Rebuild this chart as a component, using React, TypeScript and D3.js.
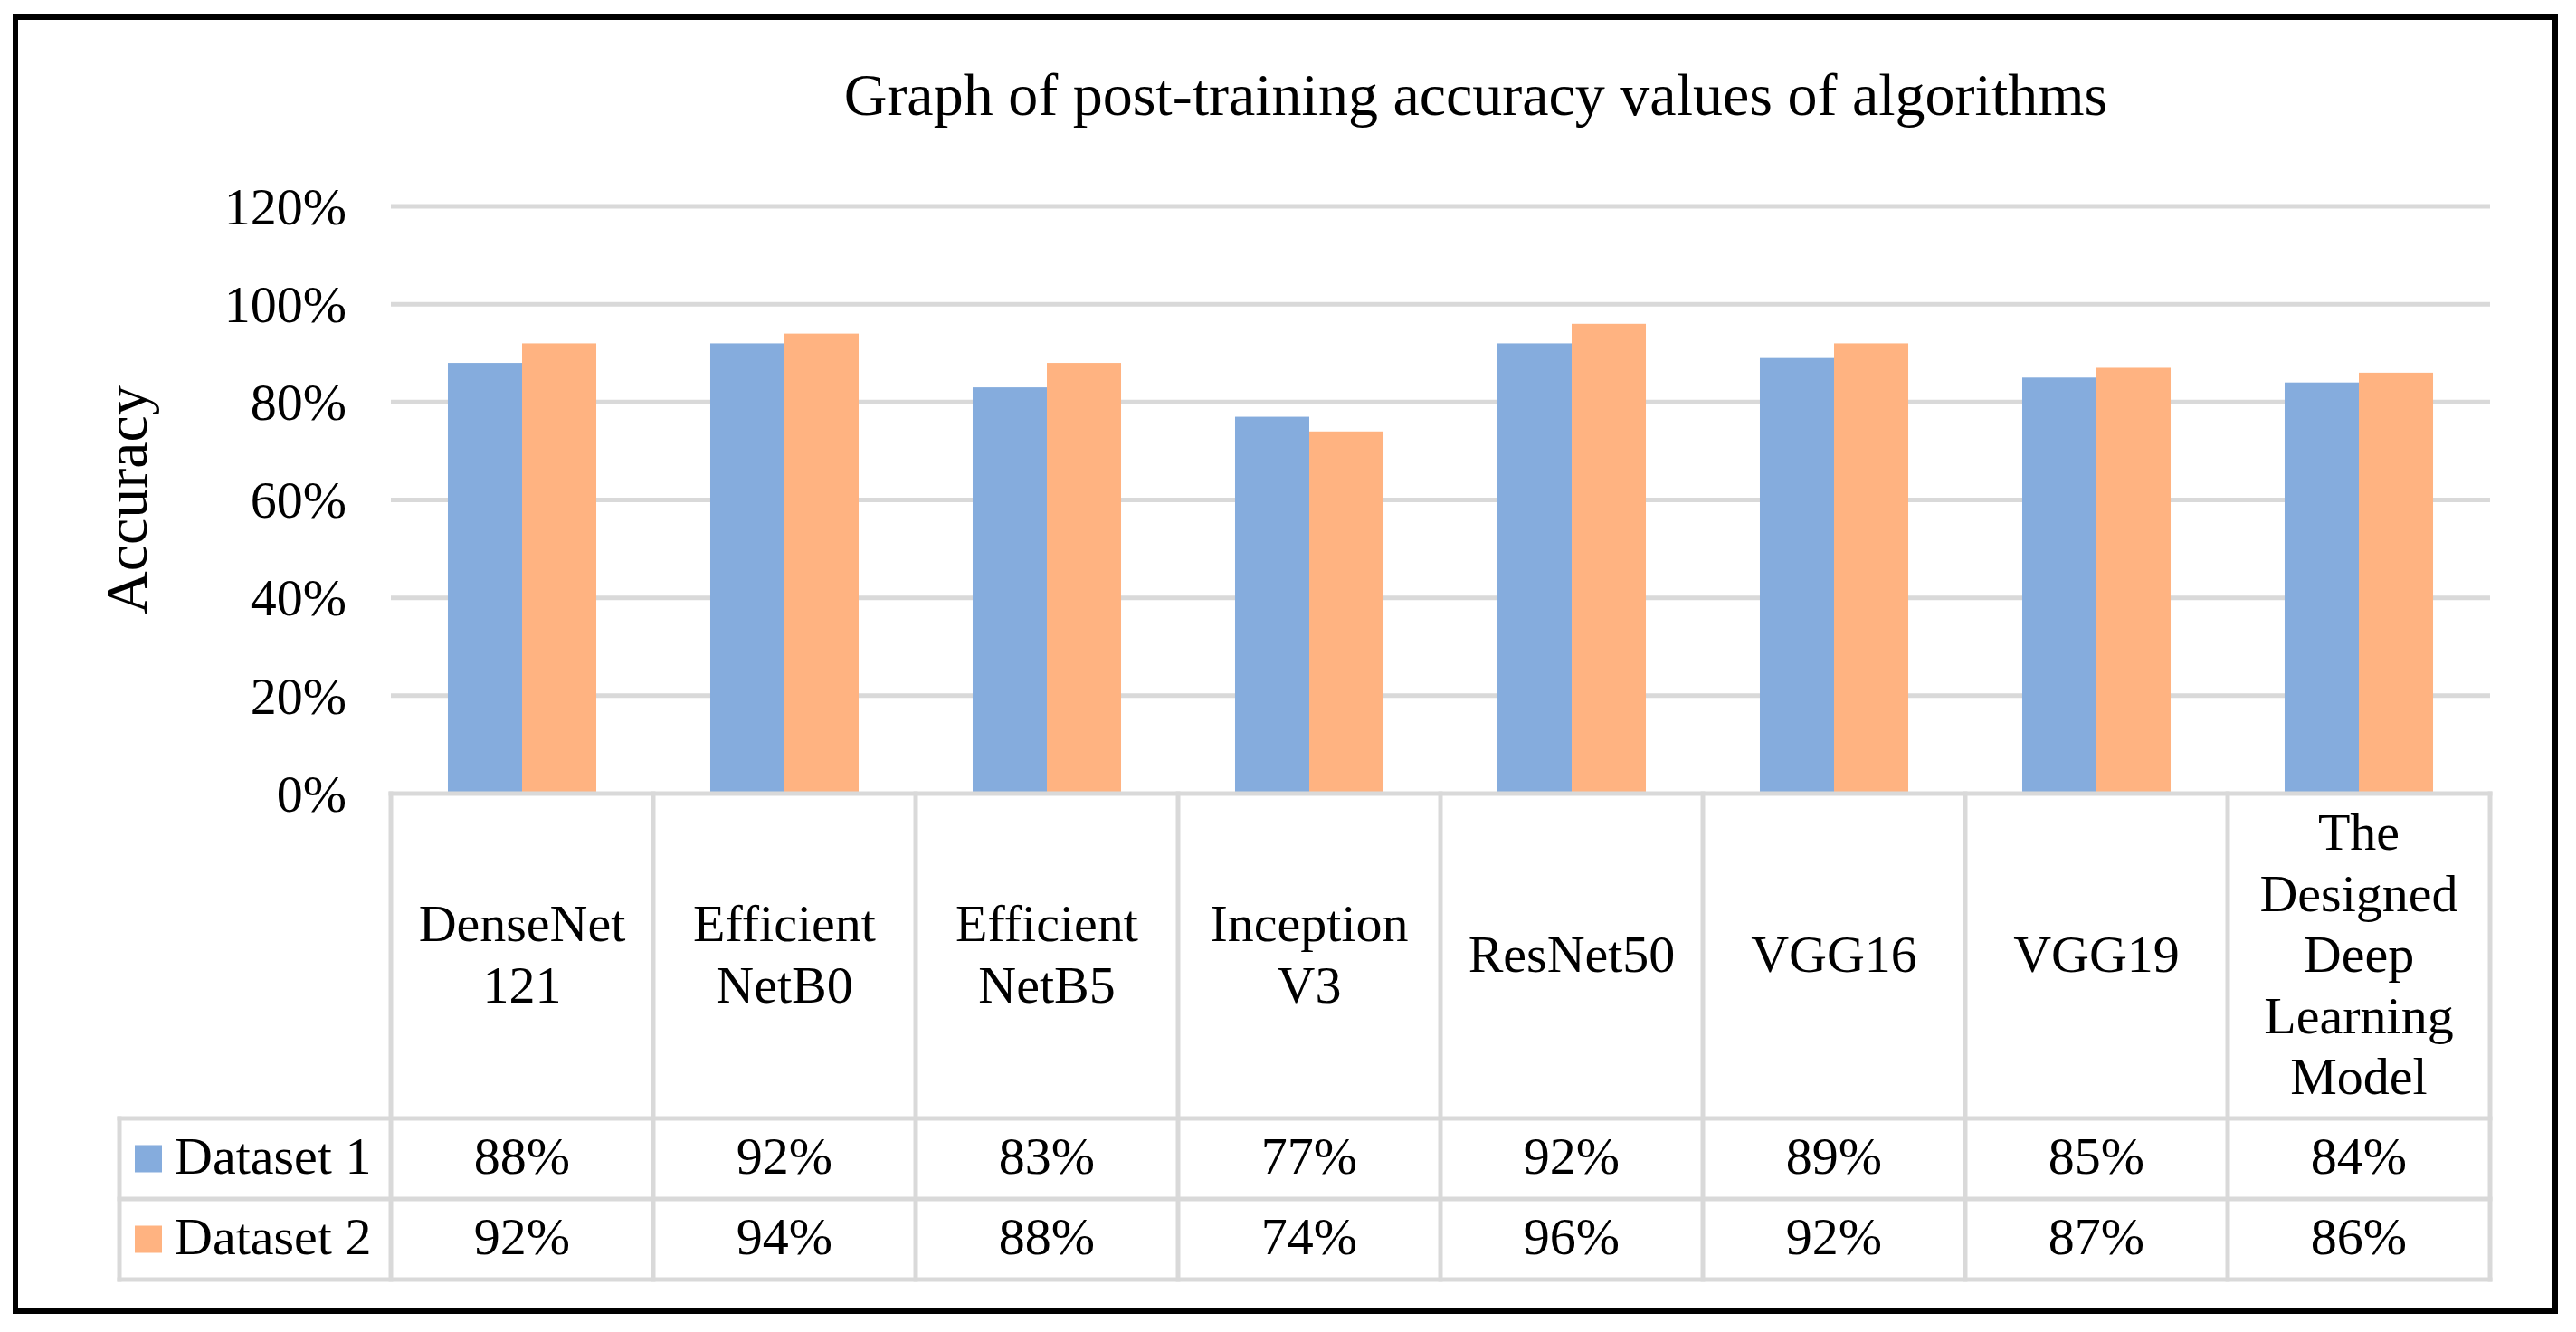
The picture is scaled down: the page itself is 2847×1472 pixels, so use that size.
import React from "react";
import * as d3 from "d3";

const categories = [
  "DenseNet 121",
  "EfficientNetB0",
  "EfficientNetB5",
  "InceptionV3",
  "ResNet50",
  "VGG16",
  "VGG19",
  "The Designed Deep Learning Model",
];
const categoryLabelLines = [
  ["DenseNet", "121"],
  ["Efficient", "NetB0"],
  ["Efficient", "NetB5"],
  ["Inception", "V3"],
  ["ResNet50"],
  ["VGG16"],
  ["VGG19"],
  ["The", "Designed", "Deep", "Learning", "Model"],
];
const seriesNames = ["Dataset 1", "Dataset 2"];
const dataset1 = [0.88, 0.92, 0.83, 0.77, 0.92, 0.89, 0.85, 0.84];
const dataset2 = [0.92, 0.94, 0.88, 0.74, 0.96, 0.92, 0.87, 0.86];
const yTicks = [0, 0.2, 0.4, 0.6, 0.8, 1.0, 1.2];
const seriesColors = ["#85ACDD", "#FFB381"];

const titleText = "Graph of post-training accuracy values of algorithms";
const yAxisTitle = "Accuracy";

export default function App() {
  const W = 2847;
  const H = 1472;
  const font = "'Liberation Serif', 'Times New Roman', serif";
  const plotLeft = 432;
  const plotRight = 2752;
  const yBase = 877;
  const yTop = 228;
  const headerBottom = 1236;
  const row1Bottom = 1325;
  const row2Bottom = 1414;
  const legendLeft = 132;
  const gridColor = "#d9d9d9";
  const lineW = 5;

  const x = d3.scaleBand<string>().domain(categories).range([plotLeft, plotRight]).padding(0);
  const xs = d3
    .scaleBand<string>()
    .domain(seriesNames)
    .range([0, x.bandwidth()])
    .paddingInner(0)
    .paddingOuter(0.768);
  const y = d3.scaleLinear().domain([0, 1.2]).range([yBase, yTop]);
  const fmt = d3.format(".0%");
  const seriesData = [dataset1, dataset2];

  const colEdges = categories.map((c) => x(c) as number).concat([plotRight]);
  const rows = [
    { top: headerBottom, bottom: row1Bottom },
    { top: row1Bottom, bottom: row2Bottom },
  ];

  return (
    <svg
      width={W}
      height={H}
      viewBox={`0 0 ${W} ${H}`}
      style={{ position: "fixed", left: 0, top: 0, background: "#fff" }}
      fontFamily={font}
    >
      <rect x={0} y={0} width={W} height={H} fill="#fff" />
      {/* outer border */}
      <rect x={17} y={19} width={2807} height={1430} fill="none" stroke="#000" strokeWidth={6} />

      {/* title */}
      <text x={1631} y={127} fontSize={66} textAnchor="middle" fill="#000">
        {titleText}
      </text>

      {/* y axis title */}
      <text transform={`translate(162, ${(yBase + yTop) / 2}) rotate(-90)`} fontSize={66} textAnchor="middle" fill="#000">
        {yAxisTitle}
      </text>

      {/* gridlines */}
      {yTicks.filter((t) => t > 0).map((t) => (
        <line key={t} x1={plotLeft} x2={plotRight} y1={y(t)} y2={y(t)} stroke={gridColor} strokeWidth={lineW} />
      ))}

      {/* y tick labels */}
      {yTicks.map((t) => (
        <text key={t} x={383} y={y(t)} dy="0.34em" fontSize={58} textAnchor="end" fill="#000">
          {fmt(t)}
        </text>
      ))}

      {/* bars */}
      {categories.map((c, i) => (
        <g key={c}>
          {seriesNames.map((s, k) => {
            const v = seriesData[k][i];
            return (
              <rect
                key={s}
                x={(x(c) as number) + (xs(s) as number)}
                y={y(v)}
                width={xs.bandwidth()}
                height={yBase - y(v)}
                fill={seriesColors[k]}
              />
            );
          })}
        </g>
      ))}

      {/* data table lines */}
      <line x1={plotLeft} x2={plotRight} y1={yBase} y2={yBase} stroke={gridColor} strokeWidth={lineW} strokeLinecap="square" />
      {[headerBottom, row1Bottom, row2Bottom].map((yy) => (
        <line key={yy} x1={legendLeft} x2={plotRight} y1={yy} y2={yy} stroke={gridColor} strokeWidth={lineW} strokeLinecap="square" />
      ))}
      <line x1={legendLeft} x2={legendLeft} y1={headerBottom} y2={row2Bottom} stroke={gridColor} strokeWidth={lineW} strokeLinecap="square" />
      {colEdges.map((xx, i) => (
        <line key={i} x1={xx} x2={xx} y1={yBase} y2={row2Bottom} stroke={gridColor} strokeWidth={lineW} strokeLinecap="square" />
      ))}

      {/* category labels */}
      {categories.map((c, i) => {
        const lines = categoryLabelLines[i];
        const lh = 67.5;
        const cy = (yBase + headerBottom) / 2;
        const cx = (x(c) as number) + x.bandwidth() / 2;
        return (
          <text key={c} fontSize={58} textAnchor="middle" fill="#000">
            {lines.map((ln, j) => (
              <tspan key={j} x={cx} y={cy + (j - (lines.length - 1) / 2) * lh + 17.5}>
                {ln}
              </tspan>
            ))}
          </text>
        );
      })}

      {/* legend + values rows */}
      {seriesNames.map((s, k) => {
        const r = rows[k];
        const cy = (r.top + r.bottom) / 2;
        return (
          <g key={s}>
            <rect x={149} y={cy - 15} width={30} height={30} fill={seriesColors[k]} />
            <text x={193} y={cy + 16} fontSize={58} fill="#000">
              {s}
            </text>
            {categories.map((c, i) => (
              <text
                key={c}
                x={(x(c) as number) + x.bandwidth() / 2}
                y={cy + 16}
                fontSize={58}
                textAnchor="middle"
                fill="#000"
              >
                {fmt(seriesData[k][i])}
              </text>
            ))}
          </g>
        );
      })}
    </svg>
  );
}
